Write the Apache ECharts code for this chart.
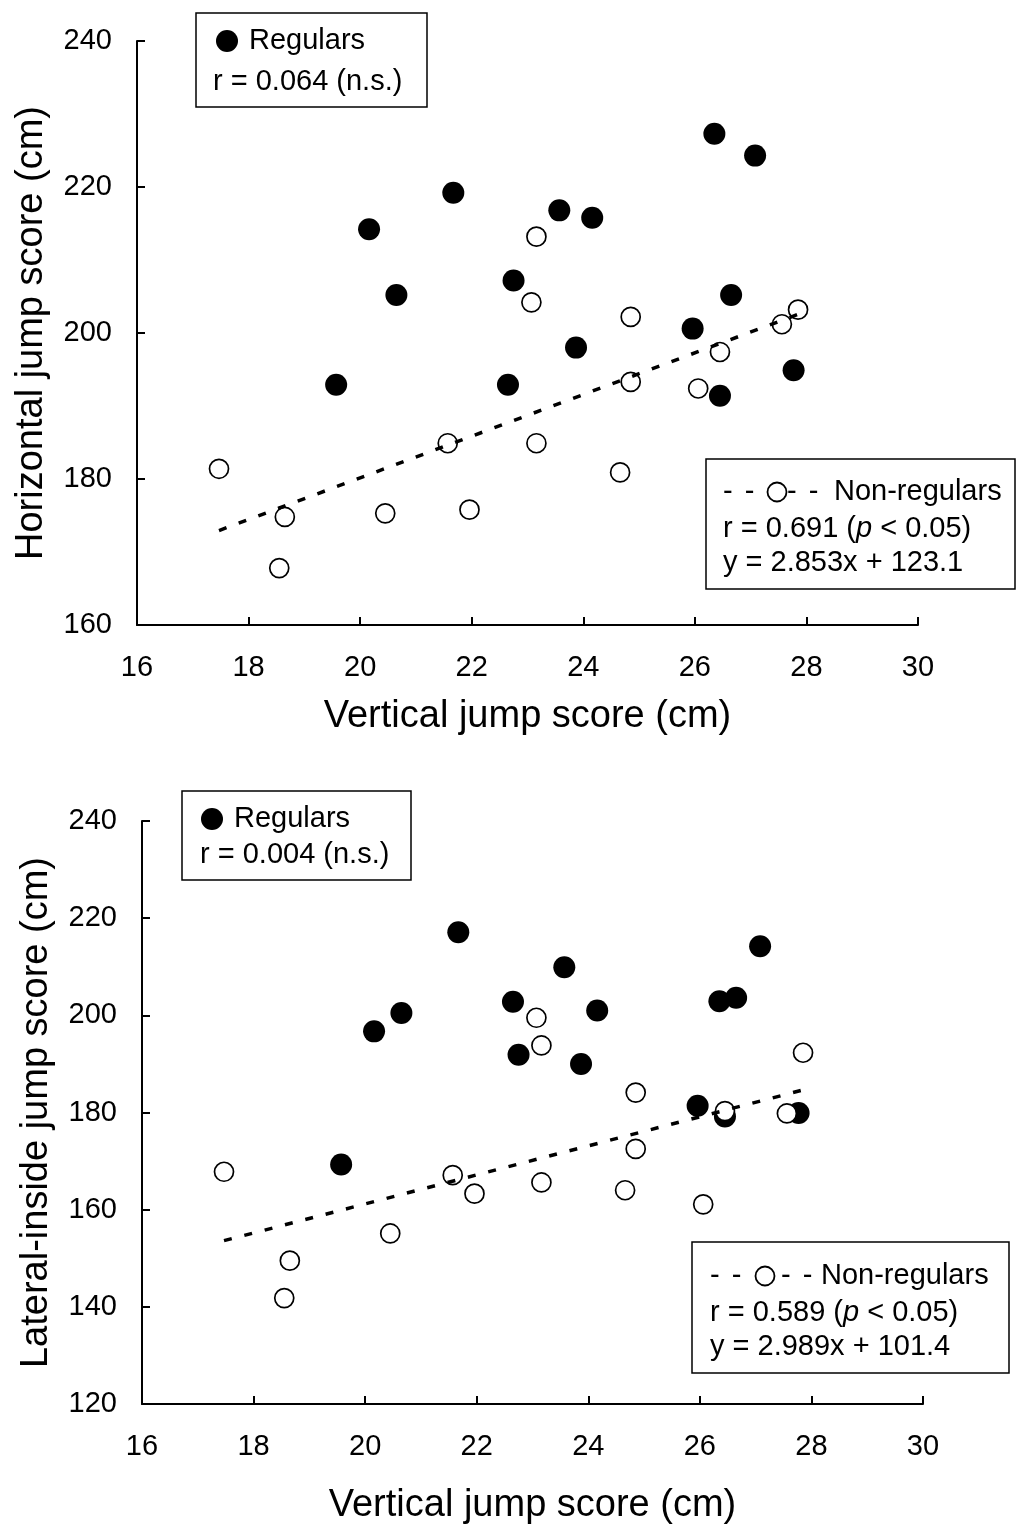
<!DOCTYPE html>
<html>
<head>
<meta charset="utf-8">
<script src="https://cdn.jsdelivr.net/npm/echarts@6/dist/echarts.min.js"></script>
<style>
  html, body { margin: 0; padding: 0; background: #fff; }
  #chart { width: 1016px; height: 1526px; }
</style>
</head>
<body>
<div id="chart"></div>
<script>
// vertical jump score (x) is shared by both panels, same subjects
const regularVertical = [19.57, 20.16, 20.65, 21.67, 22.65, 22.75, 23.57, 23.87, 24.16, 25.96, 26.35, 26.45, 26.65, 27.08, 27.77];
const regularHorizontal = [192.9, 214.2, 205.2, 219.2, 192.9, 207.2, 216.8, 198.0, 215.8, 200.6, 227.3, 191.4, 205.2, 224.3, 194.9];
const regularLateral = [169.3, 196.7, 200.5, 217.1, 202.8, 191.9, 209.9, 190.0, 201.0, 181.4, 202.9, 179.2, 203.6, 214.2, 179.9];

const nonRegularVertical = [17.47, 18.55, 18.65, 20.45, 21.57, 21.96, 23.07, 23.16, 23.16, 24.66, 24.85, 24.85, 26.06, 26.45, 27.56, 27.85];
const nonRegularHorizontal = [181.4, 167.8, 174.8, 175.3, 184.9, 175.8, 204.2, 213.2, 184.9, 180.9, 202.2, 193.3, 192.4, 197.4, 201.2, 203.2];
const nonRegularLateral = [167.8, 141.8, 149.5, 155.1, 167.1, 163.3, 199.5, 193.8, 165.6, 164.0, 184.1, 172.5, 161.1, 180.3, 179.8, 192.3];

// regression lines of non-regulars: [slope, intercept]
const horizontalFit = [2.853, 123.1];
const lateralFit = [2.989, 101.4];

// axis ranges: [min, max, interval]
const xRange = [16, 30, 2];
const horizontalRange = [160, 240, 20];
const lateralRange = [120, 240, 20];

const FONT = 'Liberation Sans, Arial, Helvetica, sans-serif';

function pairs(xs, ys) {
  return xs.map((x, i) => [x, ys[i]]);
}

function fitLine(xs, fit) {
  const lo = Math.min(...xs), hi = Math.max(...xs);
  return [[lo, fit[0] * lo + fit[1]], [hi, fit[0] * hi + fit[1]]];
}

function xAxis(idx, gap) {
  return {
    type: 'value', gridIndex: idx,
    min: xRange[0], max: xRange[1], interval: xRange[2],
    name: 'Vertical jump score (cm)', nameLocation: 'middle', nameGap: gap,
    nameTextStyle: { fontSize: 38, color: '#000', fontFamily: FONT },
    axisLine: { lineStyle: { color: '#000', width: 2 } },
    axisTick: { inside: true, length: 8, lineStyle: { color: '#000', width: 2 } },
    axisLabel: { fontSize: 29, color: '#000', fontFamily: FONT, margin: 28 },
    splitLine: { show: false }
  };
}

function yAxis(idx, range, name) {
  return {
    type: 'value', gridIndex: idx,
    min: range[0], max: range[1], interval: range[2],
    name: name, nameLocation: 'middle', nameGap: 86,
    nameTextStyle: { fontSize: 38, color: '#000', fontFamily: FONT },
    axisLine: { show: true, lineStyle: { color: '#000', width: 2 } },
    axisTick: { show: true, inside: true, length: 8, lineStyle: { color: '#000', width: 2 } },
    axisLabel: { fontSize: 29, color: '#000', fontFamily: FONT, margin: 25 },
    splitLine: { show: false }
  };
}

function seriesFor(idx, regY, nonY, fit) {
  return [
    {
      type: 'scatter', xAxisIndex: idx, yAxisIndex: idx, z: 2,
      symbol: 'circle', symbolSize: 22,
      itemStyle: { color: '#000', opacity: 1 },
      data: pairs(regularVertical, regY)
    },
    {
      type: 'scatter', xAxisIndex: idx, yAxisIndex: idx, z: 3,
      symbol: 'circle', symbolSize: 19,
      itemStyle: { color: '#fff', borderColor: '#000', borderWidth: 1.7, opacity: 1 },
      data: pairs(nonRegularVertical, nonY)
    },
    {
      type: 'line', xAxisIndex: idx, yAxisIndex: idx, z: 4,
      symbol: 'none', silent: true,
      lineStyle: { color: '#000', width: 3.5, type: [8, 13], cap: 'butt' },
      data: fitLine(nonRegularVertical, fit)
    }
  ];
}

function text(x, y, str, extra) {
  return {
    type: 'text', x: x, y: y, z: 10,
    style: Object.assign({
      text: str, fill: '#000', fontSize: 29, fontFamily: FONT, verticalAlign: 'middle'
    }, extra || {})
  };
}

function box(x, y, w, h) {
  return {
    type: 'rect', z: 9,
    shape: { x: x, y: y, width: w, height: h },
    style: { fill: '#fff', stroke: '#000', lineWidth: 1.5 }
  };
}

function italicP(x, y, before, after) {
  return text(x, y, '{n|' + before + '}{i|p}{n|' + after + '}', {
    rich: {
      n: { fontSize: 29, fontFamily: FONT, fill: '#000' },
      i: { fontSize: 29, fontFamily: FONT, fill: '#000', fontStyle: 'italic' }
    }
  });
}

// legend for regulars
function regularLegend(bx, by, bw, bh, dot, rText) {
  return [
    box(bx, by, bw, bh),
    { type: 'circle', z: 10, shape: { cx: dot[0], cy: dot[1], r: 11 }, style: { fill: '#000' } },
    text(dot[0] + 22, dot[1], 'Regulars'),
    text(rText[0], rText[1], rText[2])
  ];
}

// legend for non-regulars with regression
function nonRegularLegend(bx, by, bw, bh, tx, ly, cx, dash2, nameX, r, eq) {
  return [
    box(bx, by, bw, bh),
    text(tx, ly, '-'),
    text(tx + 21.7, ly, '-'),
    { type: 'circle', z: 10, shape: { cx: cx, cy: ly, r: 9.5 }, style: { fill: '#fff', stroke: '#000', lineWidth: 1.8 } },
    text(dash2, ly, '-'),
    text(dash2 + 21.7, ly, '-'),
    text(nameX, ly, 'Non-regulars'),
    italicP(tx, ly + 37, 'r = ' + r + ' (', ' < 0.05)'),
    text(tx, ly + 71, eq)
  ];
}

const chart = echarts.init(document.getElementById('chart'), null, { renderer: 'canvas' });

chart.setOption({
  backgroundColor: '#fff',
  animation: false,
  grid: [
    { left: 137, top: 41, width: 781, height: 584 },
    { left: 142, top: 821, width: 781, height: 584 }
  ],
  xAxis: [xAxis(0, 73), xAxis(1, 83)],
  yAxis: [
    yAxis(0, horizontalRange, 'Horizontal jump score (cm)'),
    yAxis(1, lateralRange, 'Lateral-inside jump score (cm)')
  ],
  series: seriesFor(0, regularHorizontal, nonRegularHorizontal, horizontalFit)
    .concat(seriesFor(1, regularLateral, nonRegularLateral, lateralFit)),
  graphic: [].concat(
    regularLegend(196, 13, 231, 94, [227, 41], [213, 82, 'r = 0.064 (n.s.)']),
    nonRegularLegend(706, 459, 309, 130, 723, 492, 777, 787, 834, '0.691', 'y = 2.853x + 123.1'),
    regularLegend(182, 791, 229, 89, [212, 819], [200, 855, 'r = 0.004 (n.s.)']),
    nonRegularLegend(692, 1242, 317, 131, 710, 1276, 765, 781, 821, '0.589', 'y = 2.989x + 101.4')
  )
});
</script>
</body>
</html>
